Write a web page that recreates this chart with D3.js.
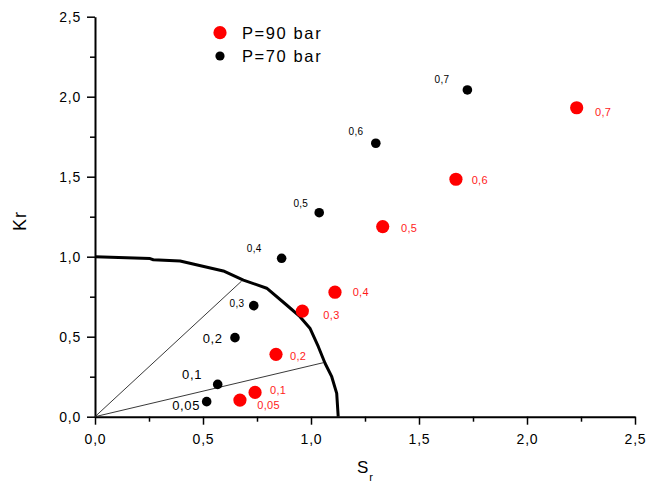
<!DOCTYPE html>
<html>
<head>
<meta charset="utf-8">
<script src="https://cdn.jsdelivr.net/npm/d3@7"></script>
<style>
  body { margin: 0; background: #fff; }
  text { font-family: "Liberation Sans", Arial, sans-serif; }
</style>
</head>
<body>
<div id="chart"></div>
<script>
// values
var pressureLabels = ["0,05", "0,1", "0,2", "0,3", "0,4", "0,5", "0,6", "0,7"];
var sr70 = [0.517, 0.568, 0.648, 0.735, 0.864, 1.038, 1.300, 1.724];
var kr70 = [0.094, 0.202, 0.494, 0.694, 0.990, 1.275, 1.709, 2.042];
var sr90 = [0.671, 0.741, 0.838, 0.960, 1.111, 1.332, 1.671, 2.230];
var kr90 = [0.104, 0.152, 0.390, 0.660, 0.778, 1.188, 1.484, 1.931];

// envelope curve
var curveSr = [0, 0.255, 0.27, 0.394, 0.594, 0.687, 0.795, 0.887, 0.949, 0.995, 1.034, 1.065, 1.096, 1.119, 1.126];
var curveKr = [1.0, 0.988, 0.981, 0.973, 0.911, 0.854, 0.803, 0.698, 0.625, 0.553, 0.4375, 0.334, 0.25, 0.146, 0];

// thin rays from the origin
var raySr = [0.679, 1.057];
var rayKr = [0.848, 0.3375];

var xTicks = [0, 0.5, 1.0, 1.5, 2.0, 2.5];
var yTicks = [0, 0.5, 1.0, 1.5, 2.0, 2.5];
var minorTicks = [0.25, 0.75, 1.25, 1.75, 2.25];

// label placement (pixels relative to each marker)
var off70 = [[-6.7, 8.3, 13], [-15.7, -5, 13], [-12.3, 5.6, 13], [-9.4, 1, 10],
             [-20, -6.6, 10], [-11, -6, 10], [-12.4, -8.3, 10], [-18, -6.7, 10]];
var off90 = [[17.3, 9.3], [15, 1.7], [14, 5.7], [21, 8.3],
             [17.7, 3.4], [18.3, 5], [15.7, 5], [18.3, 8.3]];

var W = 659, H = 484;
var svg = d3.select("#chart").append("svg")
    .attr("width", W).attr("height", H);

var x = d3.scaleLinear().domain([0, 2.5]).range([95, 635]);
var y = d3.scaleLinear().domain([0, 2.5]).range([416.7, 16.7]);

var fmt = function(d) { return d3.format(".1f")(d).replace(".", ","); };

// minor ticks
svg.append("g")
    .attr("transform", "translate(0," + y(0) + ")")
    .call(d3.axisBottom(x).tickValues(minorTicks).tickSize(5).tickFormat(""))
    .call(function(g) { g.select(".domain").remove(); g.selectAll("line").attr("stroke-width", 1.5); });
svg.append("g")
    .attr("transform", "translate(" + x(0) + ",0)")
    .call(d3.axisLeft(y).tickValues(minorTicks).tickSize(5).tickFormat(""))
    .call(function(g) { g.select(".domain").remove(); g.selectAll("line").attr("stroke-width", 1.5); });

var xAxis = svg.append("g")
    .attr("transform", "translate(0," + y(0) + ")")
    .call(d3.axisBottom(x).tickValues(xTicks).tickSize(8).tickSizeOuter(0).tickFormat(fmt));
var yAxis = svg.append("g")
    .attr("transform", "translate(" + x(0) + ",0)")
    .call(d3.axisLeft(y).tickValues(yTicks).tickSize(8).tickSizeOuter(0).tickFormat(fmt));

[xAxis, yAxis].forEach(function(g) {
    g.select(".domain").attr("stroke-width", 2);
    g.selectAll(".tick line").attr("stroke-width", 1.5);
    g.selectAll(".tick text")
        .style("font-size", "14px")
        .style("letter-spacing", "0.8px")
        .attr("fill", "#000");
});
xAxis.selectAll(".tick text").attr("y", 17);
yAxis.selectAll(".tick text").attr("x", -14);

// axis titles
var xt = svg.append("text")
    .attr("x", 357).attr("y", 473)
    .style("font-size", "17px")
    .style("letter-spacing", "1px")
    .text("S");
xt.append("tspan").attr("dy", 8).style("font-size", "11px").text("r");

svg.append("text")
    .attr("transform", "translate(26,221) rotate(-90)")
    .attr("text-anchor", "middle")
    .style("font-size", "18px")
    .style("letter-spacing", "1px")
    .text("Kr");

// rays
svg.selectAll(".ray")
    .data(raySr)
    .enter().append("line")
    .attr("x1", x(0)).attr("y1", y(0))
    .attr("x2", function(d) { return x(d); })
    .attr("y2", function(d, i) { return y(rayKr[i]); })
    .attr("stroke", "#222").attr("stroke-width", 0.9);

// envelope
var line = d3.line()
    .x(function(d) { return x(d); })
    .y(function(d, i) { return y(curveKr[i]); });
svg.append("path")
    .datum(curveSr)
    .attr("d", line)
    .attr("fill", "none")
    .attr("stroke", "#000")
    .attr("stroke-width", 3)
    .attr("stroke-linejoin", "round");

// P=70 points
svg.selectAll(".p70")
    .data(sr70)
    .enter().append("circle")
    .attr("cx", function(d) { return x(d); })
    .attr("cy", function(d, i) { return y(kr70[i]); })
    .attr("r", 4.8)
    .attr("fill", "#000");

svg.selectAll(".l70")
    .data(sr70)
    .enter().append("text")
    .attr("x", function(d, i) { return x(d) + off70[i][0]; })
    .attr("y", function(d, i) { return y(kr70[i]) + off70[i][1]; })
    .attr("text-anchor", "end")
    .style("font-size", function(d, i) { return off70[i][2] + "px"; })
    .style("letter-spacing", function(d, i) { return off70[i][2] > 11 ? "0.6px" : "0.3px"; })
    .attr("fill", "#000")
    .text(function(d, i) { return pressureLabels[i]; });

// P=90 points
svg.selectAll(".p90")
    .data(sr90)
    .enter().append("circle")
    .attr("cx", function(d) { return x(d); })
    .attr("cy", function(d, i) { return y(kr90[i]); })
    .attr("r", 6.6)
    .attr("fill", "#ff0000");

svg.selectAll(".l90")
    .data(sr90)
    .enter().append("text")
    .attr("x", function(d, i) { return x(d) + off90[i][0]; })
    .attr("y", function(d, i) { return y(kr90[i]) + off90[i][1]; })
    .style("font-size", "11px")
    .style("letter-spacing", "0.3px")
    .attr("fill", "#ff1a1a")
    .text(function(d, i) { return pressureLabels[i]; });

// legend
var legend = [
    { label: "P=90 bar", color: "#ff0000", r: 6.6 },
    { label: "P=70 bar", color: "#000", r: 4.6 }
];
var lg = svg.selectAll(".legend")
    .data(legend)
    .enter().append("g")
    .attr("transform", function(d, i) { return "translate(220," + (32.7 + i * 23.3) + ")"; });
lg.append("circle").attr("r", function(d) { return d.r; }).attr("fill", function(d) { return d.color; });
lg.append("text")
    .attr("x", 22).attr("y", 6)
    .style("font-size", "16.5px")
    .style("letter-spacing", "1.6px")
    .attr("fill", "#000")
    .text(function(d) { return d.label; });
</script>
</body>
</html>
